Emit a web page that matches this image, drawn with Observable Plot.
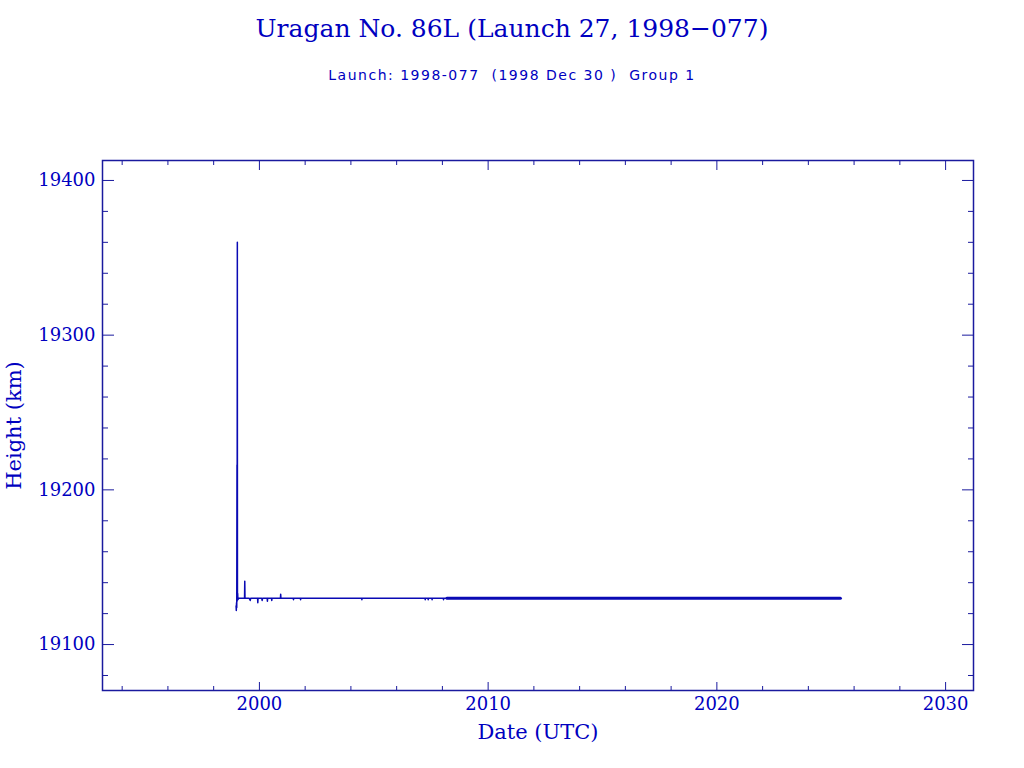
<!DOCTYPE html>
<html><head><meta charset="utf-8">
<script src="https://cdn.jsdelivr.net/npm/d3@7"></script>
<script src="https://cdn.jsdelivr.net/npm/@observablehq/plot@0.6"></script>
<style>
body{margin:0;background:#fff;}
#wrap{position:relative;width:1024px;height:768px;overflow:hidden;}
.t{position:absolute;left:0;width:1024px;text-align:center;color:#0000c0;white-space:pre;}
#chart{position:absolute;left:0;top:0;}
</style></head><body>
<div id="wrap">
<div id="chart"></div>
<div class="t" style="top:14px;font-size:25px;font-family:'DejaVu Serif';">Uragan No. 86L (Launch 27, 1998−077)</div>
<div class="t" style="top:67px;font-size:14px;letter-spacing:1.5px;font-family:'DejaVu Sans';">Launch: 1998-077  (1998 Dec 30 )  Group 1</div>
</div>
<script>
// Early / sparse tracking period (decimal year, height km)
const datesEarly = [1998.98, 1998.99, 1999.00, 1999.01, 1999.02, 1999.025, 1999.035, 1999.04, 1999.05, 1999.06,
  1999.10, 1999.20, 1999.30, 1999.35, 1999.36, 1999.37, 1999.55, 1999.60, 1999.62, 1999.75,
  1999.92, 1999.93, 1999.94, 2000.10, 2000.12, 2000.14, 2000.34, 2000.35, 2000.36, 2000.53, 2000.54, 2000.55,
  2000.80, 2000.92, 2000.93, 2000.94, 2001.2, 2001.48, 2001.49, 2001.50, 2001.79, 2001.80, 2001.81, 2002.5, 2003.5,
  2004.47, 2004.48, 2004.49, 2005.5, 2006.5, 2007.24, 2007.25, 2007.26, 2007.37, 2007.38, 2007.39, 2007.54, 2007.55, 2007.56,
  2008.04, 2008.05, 2008.06, 2008.2];
const heightsEarly = [19125, 19122, 19127, 19124, 19216, 19128, 19360, 19131, 19133, 19129,
  19130, 19130, 19130, 19130, 19141, 19130, 19130, 19128.5, 19130, 19130,
  19130, 19127, 19130, 19130, 19128.5, 19130, 19130, 19128, 19130, 19130, 19128.5, 19130,
  19130, 19130, 19132.5, 19130, 19130, 19130, 19129, 19130, 19130, 19129, 19130, 19130, 19130,
  19130, 19129, 19130, 19130, 19130, 19130, 19129, 19130, 19130, 19129, 19130, 19130, 19129, 19130,
  19130, 19129, 19130, 19130];
// Dense tracking period
const datesLate = [2008.2, 2009, 2010, 2011, 2012, 2013, 2014, 2015, 2016, 2017, 2018, 2019, 2020, 2021, 2022, 2023, 2024, 2025, 2025.4];
const heightsLate = [19130, 19130, 19130, 19130, 19130, 19130, 19130, 19130, 19130, 19130, 19130, 19130, 19130, 19130, 19130, 19130, 19130, 19130, 19130];

const xMajor = [2000, 2010, 2020, 2030];
const xMinor = [1994, 1996, 1998, 2002, 2004, 2006, 2008, 2012, 2014, 2016, 2018, 2022, 2024, 2026, 2028];
const yMajor = [19100, 19200, 19300, 19400];
const yMinor = [19080, 19120, 19140, 19160, 19180, 19220, 19240, 19260, 19280, 19320, 19340, 19360, 19380];
const xDomain = [1993.14, 2031.22];
const yDomain = [19070.3, 19412.9];

const early = datesEarly.map((d, i) => ({date: d, h: heightsEarly[i]}));
const late = datesLate.map((d, i) => ({date: d, h: heightsLate[i]}));

const axisColor = "#1a1a9e";
const textColor = "#0000c0";
const lineColor = "#0a0ab4";
const blank = () => "";

const chart = Plot.plot({
  width: 1024, height: 768,
  marginTop: 160, marginBottom: 78, marginLeft: 102, marginRight: 51,
  x: {domain: xDomain},
  y: {domain: yDomain},
  style: {fontFamily: "DejaVu Serif", color: textColor, background: "transparent", overflow: "visible"},
  marks: [
    Plot.line(late, {x: "date", y: "h", stroke: lineColor, strokeWidth: 3}),
    Plot.line(early, {x: "date", y: "h", stroke: lineColor, strokeWidth: 1.5}),
    Plot.frame({stroke: axisColor, strokeWidth: 1.5}),
    Plot.axisX(xMajor, {anchor: "bottom", tickSize: -8, tickPadding: 15, tickFormat: d => String(d), fontSize: 18, stroke: axisColor, fill: textColor,
      label: "Date (UTC)", labelAnchor: "center", labelArrow: "none", labelOffset: 48}),
    Plot.axisX(xMinor, {anchor: "bottom", tickSize: -4, tickFormat: blank, stroke: axisColor, label: null}),
    Plot.axisX(xMajor, {anchor: "top", tickSize: -9, tickFormat: blank, stroke: axisColor, label: null}),
    Plot.axisX(xMinor, {anchor: "top", tickSize: -4, tickFormat: blank, stroke: axisColor, label: null}),
    Plot.axisY(yMajor, {anchor: "left", tickSize: -12, tickPadding: 19, tickFormat: d => String(d), fontSize: 18, stroke: axisColor, fill: textColor,
      label: "Height (km)", labelAnchor: "center", labelArrow: "none", labelOffset: 96}),
    Plot.axisY(yMinor, {anchor: "left", tickSize: -6, tickFormat: blank, stroke: axisColor, label: null}),
    Plot.axisY(yMajor, {anchor: "right", tickSize: -12, tickFormat: blank, stroke: axisColor, label: null}),
    Plot.axisY(yMinor, {anchor: "right", tickSize: -6, tickFormat: blank, stroke: axisColor, label: null})
  ]
});
document.getElementById("chart").appendChild(chart);
// enlarge axis titles
chart.querySelectorAll("[aria-label='x-axis label'] text, [aria-label='y-axis label'] text").forEach(t => t.setAttribute("font-size", 21));
</script>
</body></html>
